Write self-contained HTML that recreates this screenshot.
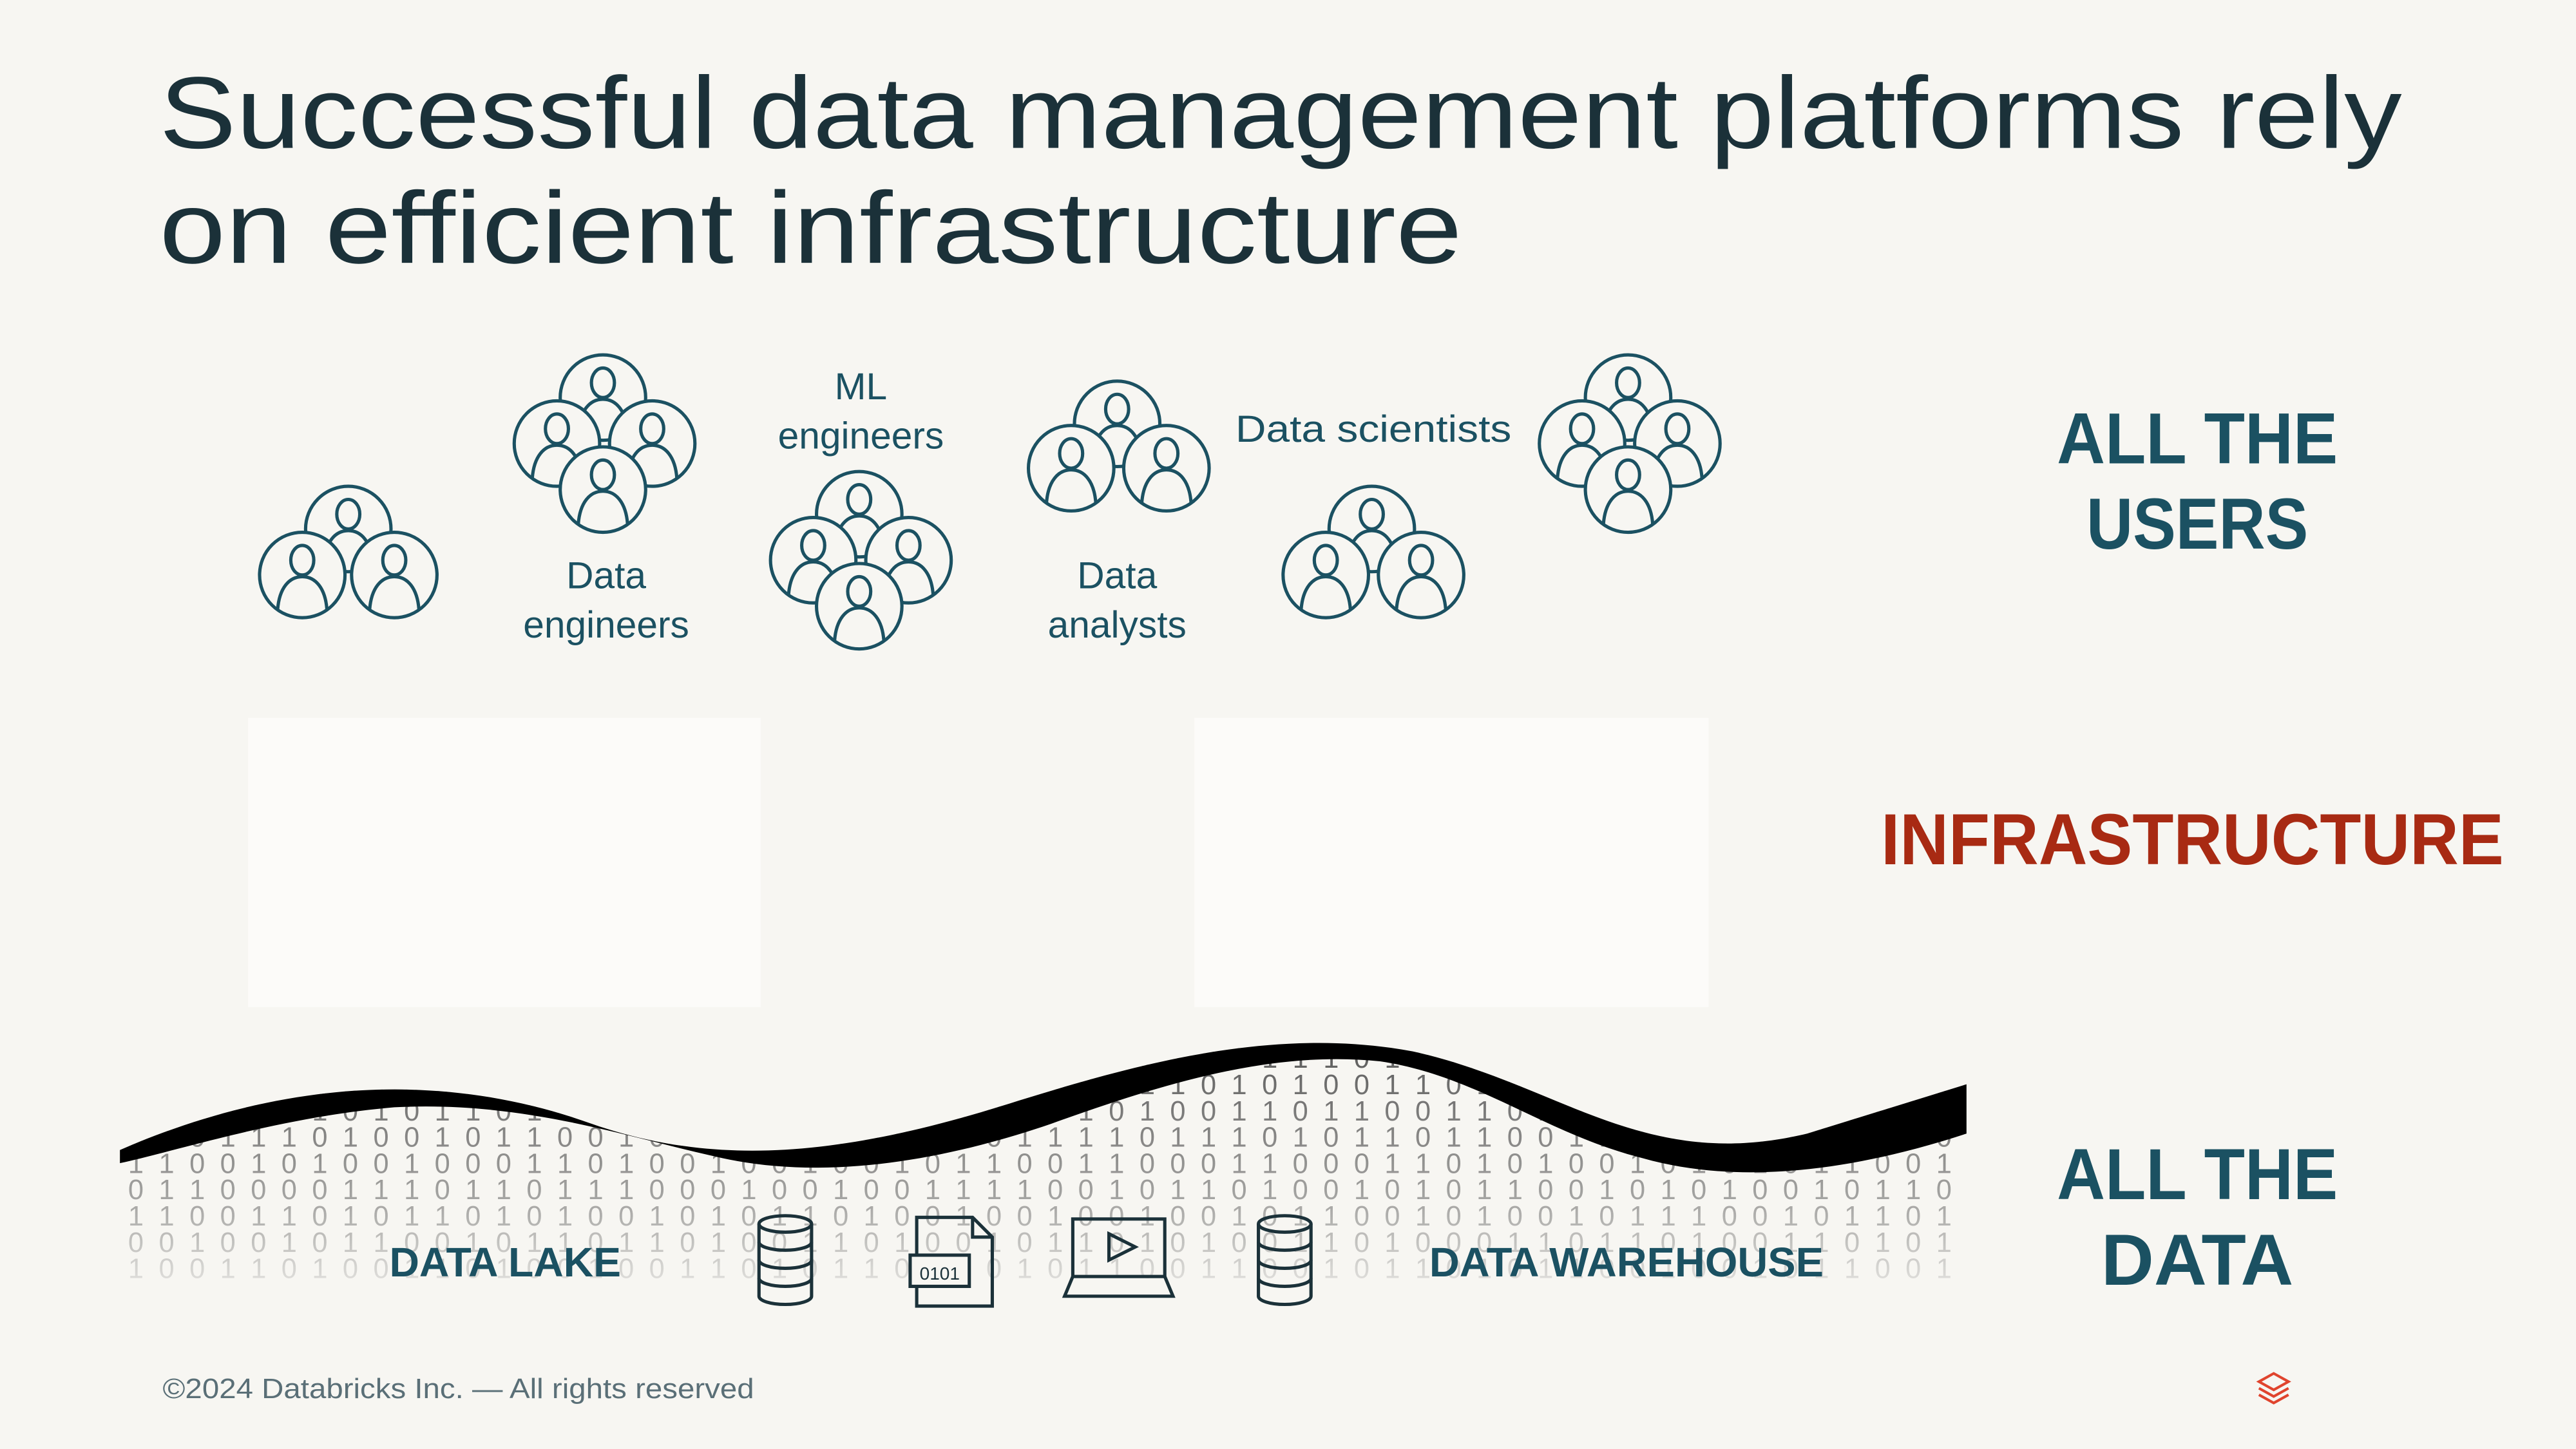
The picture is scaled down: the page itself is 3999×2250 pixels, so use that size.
<!DOCTYPE html>
<html><head><meta charset="utf-8"><style>
html,body{margin:0;padding:0;background:#f7f6f2;}
svg{display:block}
text{font-family:"Liberation Sans",sans-serif}
</style></head><body>
<svg width="3999" height="2250" viewBox="0 0 1568 882" preserveAspectRatio="none" xmlns="http://www.w3.org/2000/svg">
<defs>
<g id="p">
<circle r="26" fill="#f7f6f2" stroke="#1b5162" stroke-width="2"/>
<ellipse cx="0" cy="-9" rx="7" ry="9" fill="none" stroke="#1b5162" stroke-width="2"/>
<path d="M-15,21 C-14,8 -8,1 0,1 C8,1 14,8 15,21" fill="none" stroke="#1b5162" stroke-width="2"/>
</g>
<g id="db" fill="none" stroke="#1b3139" stroke-width="2">
<ellipse cx="0" cy="-22" rx="16" ry="5"/>
<path d="M-16,-22 V22 A16,5 0 0 0 16,22 V-22"/>
<path d="M-16,-11 A16,5 0 0 0 16,-11 M-16,0 A16,5 0 0 0 16,0 M-16,11 A16,5 0 0 0 16,11"/>
</g>
<clipPath id="under"><path d="M73,700 C160,662 260,648 360,684 C440,712 520,702 620,670 C700,645 780,625 860,640 C950,660 1000,714 1100,690 L1197,660 L1197,800 L73,800 Z"/></clipPath>
<linearGradient id="fade" x1="0" y1="0" x2="0" y2="1"><stop offset="0" stop-color="#fff"/><stop offset="0.6" stop-color="#fff" stop-opacity="0.5"/><stop offset="1" stop-color="#fff" stop-opacity="0"/></linearGradient>
<mask id="fm"><rect x="0" y="630" width="1568" height="170" fill="url(#fade)"/></mask>
</defs>
<rect width="1568" height="882" fill="#f7f6f2"/>
<text x="97" y="90" font-size="62" fill="#1b3139" textLength="1365" lengthAdjust="spacingAndGlyphs">Successful data management platforms rely</text>
<text x="97" y="160" font-size="62" fill="#1b3139" textLength="793" lengthAdjust="spacingAndGlyphs">on efficient infrastructure</text>

<use href="#p" x="212" y="322"/><use href="#p" x="184" y="350"/><use href="#p" x="240" y="350"/>
<use href="#p" x="367" y="242"/><use href="#p" x="339" y="270"/><use href="#p" x="397" y="270"/><use href="#p" x="367" y="298"/>
<use href="#p" x="523" y="313"/><use href="#p" x="495" y="341"/><use href="#p" x="553" y="341"/><use href="#p" x="523" y="369"/>
<use href="#p" x="680" y="258"/><use href="#p" x="652" y="285"/><use href="#p" x="710" y="285"/>
<use href="#p" x="835" y="322"/><use href="#p" x="807" y="350"/><use href="#p" x="865" y="350"/>
<use href="#p" x="991" y="242"/><use href="#p" x="963" y="270"/><use href="#p" x="1021" y="270"/><use href="#p" x="991" y="298"/>

<g font-size="23" fill="#1b5162" text-anchor="middle">
<text x="369" y="358">Data</text><text x="369" y="388">engineers</text>
<text x="524" y="243">ML</text><text x="524" y="273">engineers</text>
<text x="680" y="358">Data</text><text x="680" y="388">analysts</text>
<text x="836" y="269" textLength="168" lengthAdjust="spacingAndGlyphs">Data scientists</text>
</g>
<g font-size="44" font-weight="bold" fill="#1b5162">
<text x="1252" y="282" textLength="171" lengthAdjust="spacingAndGlyphs">ALL THE</text>
<text x="1270" y="334" textLength="135" lengthAdjust="spacingAndGlyphs">USERS</text>
<text x="1252" y="730" textLength="171" lengthAdjust="spacingAndGlyphs">ALL THE</text>
<text x="1279" y="782" textLength="117" lengthAdjust="spacingAndGlyphs">DATA</text>
</g>
<text x="1145" y="526" font-size="44" font-weight="bold" fill="#a82a13" textLength="379" lengthAdjust="spacingAndGlyphs">INFRASTRUCTURE</text>

<rect x="151" y="437" width="312" height="176" fill="#fcfbf9"/>
<rect x="727" y="437" width="313" height="176" fill="#fcfbf9"/>

<g clip-path="url(#under)" mask="url(#fm)" font-family="Liberation Mono" font-size="17" fill="#555">
<text x="78" y="650" textLength="1110">0 1 1 0 1 0 0 1 0 1 0 1 1 0 0 1 1 1 0 1 0 1 1 0 1 1 1 0 0 1 0 1 0 1 1 0 0 1 1 1 0 1 0 1 1 0 1 1 0 1 0 0 1 1 1 0 1 0 1 0</text>
<text x="78" y="666" textLength="1110">1 0 1 1 0 0 1 0 1 0 0 1 1 0 1 1 1 0 0 1 1 0 1 0 0 1 1 1 0 0 1 0 1 1 1 0 1 0 1 0 0 1 1 0 1 0 1 0 1 1 0 0 1 1 0 1 0 1 0 1</text>
<text x="78" y="682" textLength="1110">0 0 1 0 1 0 1 0 1 0 1 1 0 1 0 0 1 0 1 1 0 0 1 0 1 1 0 1 0 1 0 1 0 1 0 0 1 1 0 1 1 0 0 1 1 0 1 0 0 1 1 0 1 0 0 1 1 0 0 1</text>
<text x="78" y="698" textLength="1110">0 1 0 1 1 1 0 1 0 0 1 0 1 1 0 0 1 0 1 1 1 0 0 1 0 0 1 1 0 1 1 1 1 0 1 1 1 0 1 0 1 1 0 1 1 0 0 1 1 0 0 1 0 1 1 0 0 1 1 0</text>
<text x="78" y="714" textLength="1110">1 1 0 0 1 0 1 0 0 1 0 0 0 1 1 0 1 0 0 1 0 0 1 0 0 1 0 1 1 0 0 1 1 0 0 0 1 1 0 0 0 1 1 0 1 0 1 0 0 1 0 1 0 1 0 1 1 0 0 1</text>
<text x="78" y="730" textLength="1110">0 1 1 0 0 0 0 1 1 1 0 1 1 0 1 1 1 0 0 0 1 0 0 1 0 0 1 1 1 1 0 0 1 0 1 1 0 1 0 0 1 0 1 0 1 1 0 0 1 0 1 0 1 0 0 1 0 1 1 0</text>
<text x="78" y="746" textLength="1110">1 1 0 0 1 1 0 1 0 1 1 0 1 0 1 0 0 1 0 1 0 1 1 0 1 0 0 1 0 0 1 0 0 1 0 0 1 0 1 1 0 0 1 0 1 0 0 1 0 1 1 1 0 0 1 0 1 1 0 1</text>
<text x="78" y="762" textLength="1110">0 0 1 0 0 1 0 1 1 0 0 1 0 1 1 0 1 1 0 1 0 0 1 1 0 1 0 0 1 0 1 1 0 1 0 1 0 0 1 1 0 1 0 0 0 1 1 0 1 1 0 1 0 0 1 1 0 1 0 1</text>
<text x="78" y="778" textLength="1110">1 0 0 1 1 0 1 0 0 1 1 0 1 0 0 1 0 0 1 1 0 1 0 1 1 0 1 0 0 1 0 1 1 0 0 1 1 0 0 1 0 1 1 0 1 0 1 1 0 0 1 0 0 1 0 1 1 0 0 1</text>
</g>
<path d="M73,700 C160,662 260,648 360,684 C440,712 520,702 620,670 C700,645 780,625 860,640 C950,660 1000,714 1100,690 L1197,660 L1197,690 C1130,712 1060,722 1000,705 C940,690 900,655 840,646 C780,640 720,655 640,684 C570,708 500,718 440,705 C380,692 320,670 240,674 C170,680 110,700 73,708 Z" fill="#000"/>

<use href="#db" x="478" y="767"/>
<use href="#db" x="782" y="767"/>
<g fill="none" stroke="#1b3139" stroke-width="2">
<path d="M558,741 H592 L604,753 V795 H558 Z M592,741 V753 H604"/>
<rect x="554" y="764" width="36" height="19" fill="#f7f6f2"/>
<rect x="653" y="742" width="56" height="35"/>
<path d="M675,751 L691,759 L675,767 Z"/>
<path d="M653,777 L648,789 H714 L709,777"/>
</g>
<text x="572" y="779" font-size="11" fill="#1b3139" text-anchor="middle">0101</text>
<g font-size="25" font-weight="bold" fill="#1b5162">
<text x="237" y="777" textLength="141" lengthAdjust="spacingAndGlyphs">DATA LAKE</text>
<text x="870" y="777" textLength="240" lengthAdjust="spacingAndGlyphs">DATA WAREHOUSE</text>
</g>
<text x="99" y="851" font-size="17" fill="#5a6f77" textLength="360" lengthAdjust="spacingAndGlyphs">©2024 Databricks Inc. — All rights reserved</text>
<g fill="none" stroke="#e0442e" stroke-width="1.6">
<path d="M1375,841 L1384,836 L1393,841 L1384,846 Z"/>
<path d="M1375,845 L1384,850 L1393,845"/>
<path d="M1375,849 L1384,854 L1393,849"/>
</g>
</svg>
</body></html>
